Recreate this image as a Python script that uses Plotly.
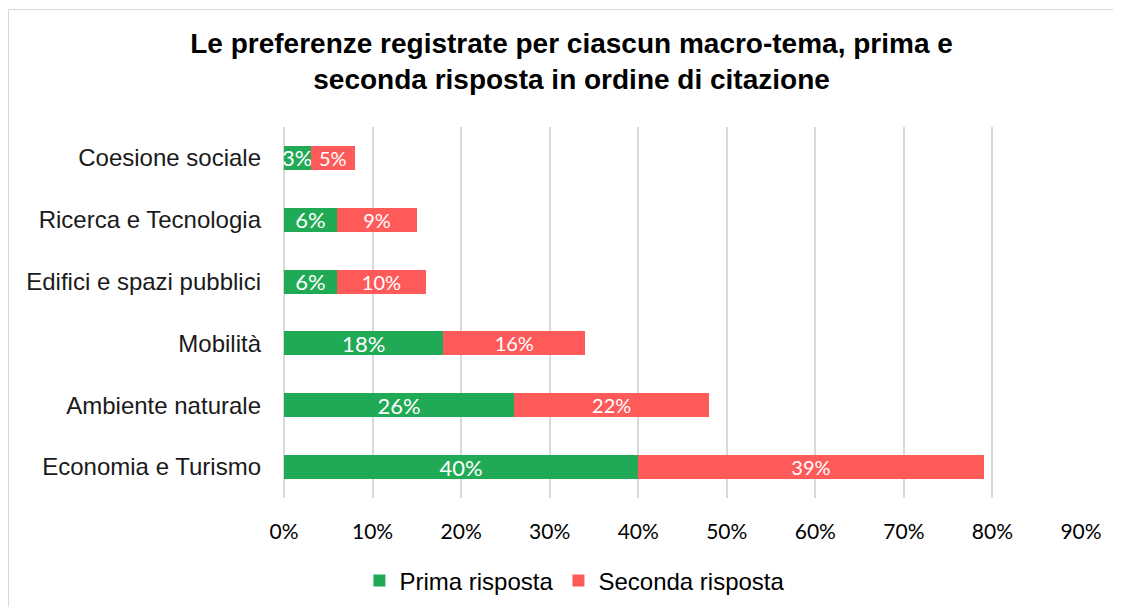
import plotly.graph_objects as go

categories = ["Economia e Turismo", "Ambiente naturale", "Mobilità",
              "Edifici e spazi pubblici", "Ricerca e Tecnologia", "Coesione sociale"]
prima = [0.40, 0.26, 0.18, 0.06, 0.06, 0.03]
seconda = [0.39, 0.22, 0.16, 0.10, 0.09, 0.05]
tick_vals = [0, 0.1, 0.2, 0.3, 0.4, 0.5, 0.6, 0.7, 0.8, 0.9]
tick_text = ["0%", "10%", "20%", "30%", "40%", "50%", "60%", "70%", "80%", "90%"]

W, H = 1105, 599
L, R, T, B = 276, 32, 119, 109
PW, PH = W - L - R, H - T - B


def py(fig_y):
    return (T + PH - fig_y) / PH


fig = go.Figure()
fig.add_trace(go.Bar(
    y=categories, x=prima, orientation="h", name="Prima risposta",
    marker=dict(color="#21AA55", line=dict(width=0)),
    texttemplate="%{x:.0%}", textposition="inside", insidetextanchor="middle",
    constraintext="none",
    textfont=dict(family="Lato", size=22, color="white"),
))
fig.add_trace(go.Bar(
    y=categories, x=seconda, orientation="h", name="Seconda risposta",
    marker=dict(color="#FF5A5A", line=dict(width=0)),
    texttemplate="%{x:.0%}", textposition="inside", insidetextanchor="middle",
    constraintext="none",
    textfont=dict(family="Lato", size=20, color="white"),
))

fig.update_layout(
    barmode="stack",
    bargap=0.61,
    width=W, height=H,
    margin=dict(l=L, r=R, t=T, b=B, autoexpand=False),
    paper_bgcolor="white", plot_bgcolor="white",
    title=dict(
        text="<b>Le preferenze registrate per ciascun macro-tema, prima e<br>seconda risposta in ordine di citazione</b>",
        x=0.510, xanchor="center", y=1 - 45 / H, yanchor="middle",
        font=dict(family="Liberation Sans", size=28, color="#000000"),
    ),
    xaxis=dict(range=[0, 0.9], tickvals=tick_vals, ticktext=tick_text,
               showgrid=True, gridcolor="#D9D9D9", gridwidth=2,
               zeroline=True, zerolinecolor="#D9D9D9", zerolinewidth=2,
               tickfont=dict(family="Lato", size=21, color="#000000"),
               ticks="", ticklabelstandoff=19, fixedrange=True, automargin=False),
    yaxis=dict(tickfont=dict(family="Liberation Sans", size=24, color="#1a1a1a"),
               ticks="", ticklabelstandoff=22, fixedrange=True, automargin=False),
    legend=dict(orientation="h", x=0.365, xanchor="center",
                y=py(581 - 8), yanchor="middle",
                font=dict(family="Liberation Sans", size=24, color="#000000"),
                traceorder="normal", itemwidth=30),
    showlegend=True,
    shapes=[dict(type="rect", xref="paper", yref="paper",
                 x0=(0.5 - L) / PW, x1=(W + 10 - L) / PW,
                 y0=py(H + 10), y1=py(1.5),
                 line=dict(color="#D9D9D9", width=1), layer="below")],
)

fig.write_html("out.html")
